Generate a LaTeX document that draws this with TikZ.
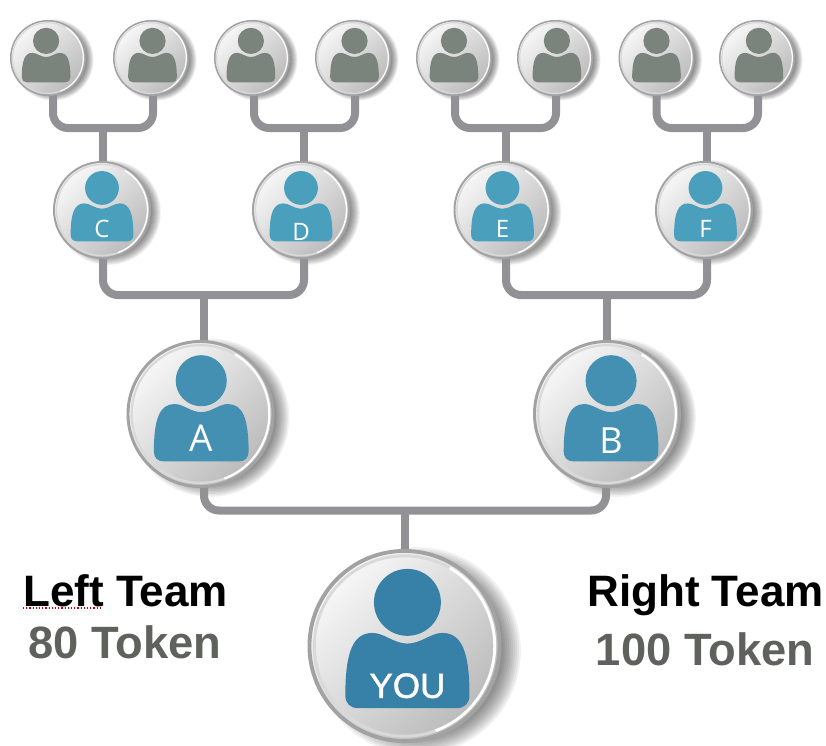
\documentclass[tikz,border=0pt]{standalone}
\usepackage{fontspec}
\setmainfont{Liberation Sans}
\newfontfamily\letterfont{Open Sans}
\newfontfamily\youfont[FakeBold=1.4]{Liberation Sans}
\usetikzlibrary{backgrounds}
\definecolor{linkgray}{HTML}{929296}
\definecolor{ringgray}{HTML}{A2A2A2}
\definecolor{topgray}{HTML}{7A847D}
\definecolor{rowblue}{HTML}{4A9FBD}
\definecolor{midblue}{HTML}{4490B3}
\definecolor{youblue}{HTML}{3780A8}
\definecolor{tokengray}{HTML}{5F625C}
\tikzset{
  disc/.style={circle,inner sep=0pt,outer sep=0pt,draw=ringgray,top color=white!97!black,bottom color=black!27,shading angle=45},
  link/.style={draw=linkgray,line width=8pt,rounded corners=15pt},
  badge/.style={text=white,inner sep=0pt,anchor=center},
  teamhead/.style={font=\bfseries\fontsize{44}{44}\selectfont,text=black,inner sep=0pt,anchor=base},
  teamtoken/.style={font=\bfseries\fontsize{45.3}{45.3}\selectfont,text=tokengray,inner sep=0pt,anchor=base}
}
% name, x, y, R, figure x offset (in R), colour, label, font commands, label y (in R)
\newcommand{\personcircle}[9]{%
  \begin{pgfonlayer}{background}
    \begin{scope}[shift={(#2,#3)},x=#4pt,y=#4pt]
      \foreach \rr in {1.07,1.05,1.03,1.01,.99,.97,.95,.93,.91,.89}
        \fill[black,opacity=.055] (.13,-.05) circle (\rr);
    \end{scope}
  \end{pgfonlayer}
  \node[disc,line width={.04*#4pt},minimum size={1.96*#4pt}] (#1) at (#2,#3) {};
  \begin{scope}[shift={(#2,#3)},x=#4pt,y=#4pt]
    \draw[white,line width={.03*#4pt}] (-70:.93) arc (-70:60:.93);
    \draw[white!85!black,line width={.03*#4pt}] (60:.93) arc (60:290:.93);
    \begin{scope}[xshift={#5*#4pt}]
      \fill[#6] (0,.45) circle (.345);
      \fill[#6] (-.64,-.51) .. controls (-.64,-.59) and (-.59,-.64) .. (-.51,-.64)
        -- (.51,-.64) .. controls (.59,-.64) and (.64,-.59) .. (.64,-.51)
        .. controls (.64,-.06) and (.56,.135) .. (.36,.135)
        .. controls (.24,.135) and (.14,.025) .. (0,.025)
        .. controls (-.14,.025) and (-.24,.135) .. (-.36,.135)
        .. controls (-.56,.135) and (-.64,-.06) .. (-.64,-.51) -- cycle;
      \if\relax\detokenize{#7}\relax\else
        \node[badge,font=#8] (#1label) at (0,#9) {#7};
      \fi
    \end{scope}
  \end{scope}
}
\pgfdeclarelayer{background}
\pgfsetlayers{background,main}
\begin{document}
\begin{tikzpicture}[x=1pt,y=1pt]
\useasboundingbox (0,0) rectangle (826,-745);
\personcircle{t1}{48}{-58}{38}{-.05}{topgray}{}{}{0}
\personcircle{t2}{151}{-58}{38}{.04}{topgray}{}{}{0}
\personcircle{t3}{252}{-58}{38}{-.03}{topgray}{}{}{0}
\personcircle{t4}{353}{-58}{38}{.04}{topgray}{}{}{0}
\personcircle{t5}{454}{-58}{38}{0}{topgray}{}{}{0}
\personcircle{t6}{555}{-58}{38}{.05}{topgray}{}{}{0}
\personcircle{t7}{656.5}{-58}{38}{0}{topgray}{}{}{0}
\personcircle{t8}{757}{-58}{38}{.05}{topgray}{}{}{0}
\personcircle{c}{102}{-210}{49}{.0}{rowblue}{C}{\letterfont\fontsize{24}{24}\selectfont}{-.39}
\personcircle{d}{301}{-210}{49}{.0}{rowblue}{D}{\letterfont\fontsize{24}{24}\selectfont}{-.45}
\personcircle{e}{502.5}{-210}{49}{.0}{rowblue}{E}{\letterfont\fontsize{24}{24}\selectfont}{-.39}
\personcircle{f}{704}{-210}{49}{.03}{rowblue}{F}{\letterfont\fontsize{24}{24}\selectfont}{-.39}
\personcircle{a}{200.5}{-414}{74}{.01}{midblue}{A}{\letterfont\fontsize{37}{37}\selectfont}{-.33}
\personcircle{b}{607}{-414}{74}{.055}{midblue}{B}{\letterfont\fontsize{36}{36}\selectfont}{-.36}
\personcircle{you}{404.5}{-646}{97}{.03}{youblue}{YOU}{\youfont\fontsize{35}{35}\selectfont}{-.41}
\coordinate (j1) at (103,-128);
\coordinate (j2) at (304,-128);
\coordinate (j3) at (506,-128);
\coordinate (j4) at (707,-128);
\coordinate (j5) at (203.5,-295);
\coordinate (j6) at (606.5,-295);
\coordinate (j7) at (405,-510.5);
\begin{pgfonlayer}{background}
\draw[link] ([xshift=5pt]t1.south) |- (j1) -| ([xshift=2pt]t2.south);
\draw[link] ([xshift=2pt]t3.south) |- (j2) -| ([xshift=2pt]t4.south);
\draw[link] ([xshift=1pt]t5.south) |- (j3) -| ([xshift=1pt]t6.south);
\draw[link] (t7.south) |- (j4) -| ([xshift=1pt]t8.south);
\draw[link] (j1) -- (c.north -| j1);
\draw[link] (j2) -- (d.north -| j2);
\draw[link] (j3) -- (e.north -| j3);
\draw[link] (j4) -- (f.north -| j4);
\draw[link] ([xshift=1pt]c.south) |- (j5) -| ([xshift=3pt]d.south);
\draw[link] ([xshift=3.5pt]e.south) |- (j6) -| ([xshift=3pt]f.south);
\draw[link] (j5) -- (a.north -| j5);
\draw[link] (j6) -- (b.north -| j6);
\draw[link] ([xshift=3.5pt]a.south) |- (j7) -| ([xshift=-1pt]b.south);
\draw[link] (j7) -- (you.north -| j7);
\end{pgfonlayer}
\node[teamhead] (lt) at (125.5,-606) {Left Team};
\node[teamtoken] (lv) at (124.7,-658) {80 Token};
\node[teamhead] (rt) at (705.5,-606) {Right Team};
\node[teamtoken] (rv) at (705,-665.5) {100 Token};
\draw[red!80!black,line width=1.2pt,dotted] (23,-608) -- (101,-608);
\end{tikzpicture}
\end{document}
